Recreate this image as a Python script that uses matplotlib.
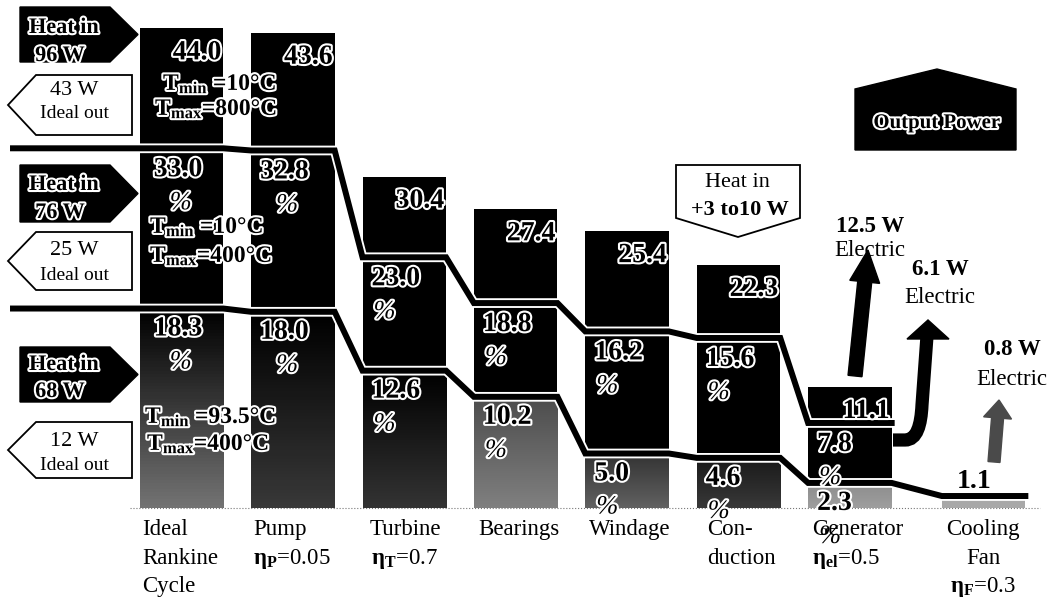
"""Waterfall of cycle efficiency losses for three heat-input cases."""
import numpy as np
from matplotlib import pyplot as plt
from matplotlib import patheffects as pe
from matplotlib.patches import Polygon, PathPatch
from matplotlib.path import Path
from matplotlib.colors import LinearSegmentedColormap

plt.rcParams['font.family'] = ['Liberation Serif', 'DejaVu Serif']
plt.rcParams['mathtext.fontset'] = 'custom'
plt.rcParams['mathtext.rm'] = 'Liberation Serif'
plt.rcParams['mathtext.it'] = 'Liberation Serif:italic'
plt.rcParams['mathtext.bf'] = 'Liberation Serif:bold'

# efficiency (%) remaining after each stage, for the three heat-input cases
stages = ['Ideal\nRankine\nCycle', 'Pump', 'Turbine', 'Bearings', 'Windage',
          'Con-\nduction', 'Generator', 'Cooling\nFan']
stage_eta = ['', r'$\mathbf{\eta}_{\mathbf{P}}$=0.05', r'$\mathbf{\eta}_{\mathbf{T}}$=0.7',
             '', '', '', r'$\mathbf{\eta}_{\mathbf{el}}$=0.5', r'$\mathbf{\eta}_{\mathbf{F}}$=0.3']
eff_96 = [44.0, 43.6, 30.4, 27.4, 25.4, 22.3, 11.1]
eff_76 = [33.0, 32.8, 23.0, 18.8, 16.2, 15.6, 7.8]
eff_68 = [18.3, 18.0, 12.6, 10.2, 5.0, 4.6, 2.3, 1.1]
heat_in = ['96 W', '76 W', '68 W']
ideal_out = ['43 W', '25 W', '12 W']
t_min = ['10°C', '10°C', '93.5°C']
t_max = ['800°C', '400°C', '400°C']
electric = ['12.5 W', '6.1 W', '0.8 W']

# layout
xpos = [0, 1, 2, 3, 4, 5, 6, 7.2]
W = 0.75
X0, XS = 181.5, 111.4   # pixel centre of first column, pixels per column
Y0, YS = 508.0, 10.9    # pixel baseline, pixels per percent


def px(x):
    return (x - X0) / XS


def py(y):
    return (Y0 - y) / YS


def pts(seq):
    return [(px(a), py(b)) for a, b in seq]


outline = [pe.withStroke(linewidth=3, foreground='white')]

fig = plt.figure(figsize=(10.53, 6.04), dpi=100)
ax = fig.add_axes([0, 0, 1, 1])
ax.axis('off')

# bars
for i, v in enumerate(eff_96):
    ax.bar(xpos[i], v, width=W, color='black', zorder=1)
ax.bar(xpos[7], eff_68[7], width=W, color='#a8a8a8', zorder=1)

shades = [(0.45, 0.0), (0.22, 0.0), (0.2, 0.0), (0.5, 0.3), (0.38, 0.2),
          (0.22, 0.1), (0.62, 0.55)]
grad = np.linspace(0, 1, 64).reshape(-1, 1)
for i in range(7):
    lo, hi = shades[i]
    cmap = LinearSegmentedColormap.from_list('seg', [str(lo), str(hi)])
    ax.imshow(grad, extent=[xpos[i] - W / 2, xpos[i] + W / 2, 0, eff_68[i]],
              origin='lower', aspect='auto', cmap=cmap, vmin=0, vmax=1, zorder=1.5)

ax.plot([px(130), px(1040)], [0, 0], ls=':', color='#777777', lw=0.8, zorder=0.5)


def step_line(vals, xs):
    xy = [(px(13), vals[0])]
    for v, x in zip(vals, xs):
        xy += [(x - W / 2, v), (x + W / 2, v)]
    xx, yy = zip(*xy)
    ax.plot(xx, yy, color='black', lw=4.3, solid_joinstyle='miter',
            path_effects=[pe.Stroke(linewidth=7, foreground='white'), pe.Normal()],
            zorder=3)


step_line(eff_76, xpos[:7])
step_line(eff_68, xpos)

# value labels
for i in range(7):
    ax.text(xpos[i] + W / 2 - 2 / XS, eff_96[i] - 31 / YS, f'{eff_96[i]:.1f}',
            ha='right', va='baseline', fontsize=20, fontweight='bold',
            color='black', path_effects=outline, zorder=6)
    for vals in (eff_76, eff_68):
        off = 28 if vals is eff_76 else 27
        x = xpos[i] - W / 2 + (14 if i == 0 else 9) / XS
        ax.text(x, vals[i] - off / YS, f'{vals[i]:.1f}', ha='left', va='baseline',
                fontsize=20, fontweight='bold', color='black',
                path_effects=outline, zorder=6)
        xp = x + (16 / XS if i < 2 else 2 / XS)
        ax.text(xp, vals[i] - (off + 33) / YS, '%', ha='left', va='baseline',
                fontsize=19, fontstyle='italic', color='black',
                path_effects=outline, zorder=6)
ax.text(xpos[7] - 9 / XS, eff_68[7] + 8 / YS, f'{eff_68[7]:.1f}', ha='center',
        va='baseline', fontsize=20, fontweight='bold', zorder=6)

# temperature labels in the ideal column
t_pos = [(163, 90, 155, 115), (150, 233, 150, 262), (145, 423, 147, 450)]
for k in range(3):
    a, b, c, d = t_pos[k]
    ax.text(px(a), py(b), 'T$_{\\mathbf{min}}$ =' + t_min[k], fontsize=17,
            fontweight='bold', va='baseline', path_effects=outline, zorder=6)
    ax.text(px(c), py(d), 'T$_{\\mathbf{max}}$=' + t_max[k], fontsize=17,
            fontweight='bold', va='baseline', path_effects=outline, zorder=6)

# heat-in and ideal-out tags on the left
heat_box = [(7, 62), (165, 222), (347, 402)]
out_box = [(75, 135), (232, 290), (422, 478)]
heat_base = [(33, 61), (190, 218), (370, 397)]
out_base = [(95, 118), (255, 280), (446, 470)]
for k in range(3):
    y0, y1 = heat_box[k]
    ax.add_patch(Polygon(pts([(20, y0), (110, y0), (138, (y0 + y1) / 2), (110, y1), (20, y1)]),
                         closed=True, fc='black', ec='black', zorder=4))
    ax.text(px(64), py(heat_base[k][0]), 'Heat in', ha='center', va='baseline',
            fontsize=16, fontweight='bold', path_effects=outline, zorder=6)
    ax.text(px(60), py(heat_base[k][1]), heat_in[k], ha='center', va='baseline',
            fontsize=16, fontweight='bold', path_effects=outline, zorder=6)
    y0, y1 = out_box[k]
    ax.add_patch(Polygon(pts([(8, (y0 + y1) / 2), (36, y0), (132, y0), (132, y1), (36, y1)]),
                         closed=True, fc='white', ec='black', lw=1.3, zorder=4))
    ax.text(px(74), py(out_base[k][0]), ideal_out[k], ha='center', va='baseline',
            fontsize=16, zorder=6)
    ax.text(px(75), py(out_base[k][1]), 'Ideal out', ha='center', va='baseline',
            fontsize=14, zorder=6)

# heat leak tag
ax.add_patch(Polygon(pts([(676, 165), (800, 165), (800, 218), (738, 237), (676, 218)]),
                     closed=True, fc='white', ec='black', lw=1.3, zorder=4))
ax.text(px(737), py(187), 'Heat in', ha='center', va='baseline', fontsize=16, zorder=6)
ax.text(px(740), py(215), '+3 to10 W', ha='center', va='baseline', fontsize=16,
        fontweight='bold', zorder=6)

# output power tag
ax.add_patch(Polygon(pts([(855, 150), (855, 89), (937, 69), (1016, 89), (1016, 150)]),
                     closed=True, fc='black', ec='black', zorder=4))
ax.text(px(937), py(128), 'Output Power', ha='center', va='baseline', fontsize=15,
        fontweight='bold', path_effects=outline, zorder=6)


def arrow(x0, y0, x1, y1, sw, hw, hl, color):
    d = np.array([x1 - x0, y1 - y0], float)
    L = np.hypot(*d)
    d /= L
    n = np.array([-d[1], d[0]])
    p0 = np.array([x0, y0], float)
    hb = p0 + d * (L - hl)
    poly = [p0 + n * sw / 2, hb + n * sw / 2, hb + n * hw / 2, (x1, y1),
            hb - n * hw / 2, hb - n * sw / 2, p0 - n * sw / 2]
    ax.add_patch(Polygon(pts(poly), closed=True, fc=color, ec=color, zorder=4))


arrow(855, 376, 868, 250, 14, 30, 32, 'black')
arrow(994, 462, 999, 400, 12, 28, 18, '#4a4a4a')

# curved arrow leaving the generator
verts = pts([(893, 440), (905, 440), (917, 440), (921, 425), (922, 405), (927, 336)])
codes = [Path.MOVETO, Path.LINETO, Path.CURVE4, Path.CURVE4, Path.CURVE4, Path.LINETO]
ax.add_patch(PathPatch(Path(verts, codes), fill=False, lw=9.5, ec='black',
                       capstyle='butt', zorder=4))
ax.add_patch(Polygon(pts([(907, 339), (949, 339), (928, 320)]), closed=True,
                     fc='black', ec='black', zorder=4))

e_pos = [(870, 232, 256), (940, 275, 303), (1012, 355, 385)]
for k in range(3):
    x, b1, b2 = e_pos[k]
    ax.text(px(x), py(b1), electric[k], ha='center', va='baseline', fontsize=16.5,
            fontweight='bold', zorder=6)
    ax.text(px(x), py(b2), 'Electric', ha='center', va='baseline', fontsize=16.5,
            zorder=6)

# stage labels
lab_px = [142, 253, 405, 519, 630, 707, 812, 983]
lab_ha = ['left', 'left', 'center', 'center', 'center', 'left', 'left', 'center']
for i, name in enumerate(stages):
    lines = name.split('\n') + ([stage_eta[i]] if stage_eta[i] else [])
    for k, line in enumerate(lines):
        ax.text(px(lab_px[i]), py(535 + 28.7 * k), line, ha=lab_ha[i],
                va='baseline', fontsize=16.5, zorder=6)

ax.set_xlim(px(0), px(1053))
ax.set_ylim(py(604), py(0))

plt.savefig('out.png', dpi=100)
